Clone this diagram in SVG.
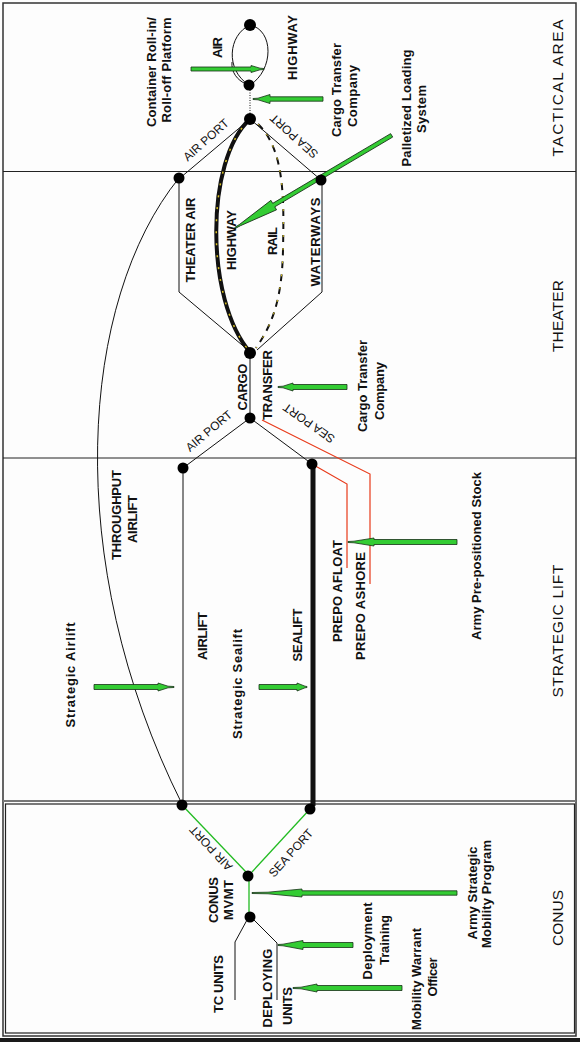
<svg xmlns="http://www.w3.org/2000/svg" width="580" height="1042" viewBox="0 0 580 1042">
<style>
.b{font-family:"Liberation Sans",Arial,sans-serif;font-weight:bold;font-size:13px;fill:#111;text-anchor:middle}
.p{font-family:"Liberation Sans",Arial,sans-serif;font-size:12px;fill:#111;text-anchor:middle;dominant-baseline:central}
.band{font-family:"Liberation Sans",Arial,sans-serif;font-size:15.5px;fill:#111;text-anchor:middle}
.ln{fill:none;stroke:#111;stroke-width:1}
.gl{fill:none;stroke:#22bb22;stroke-width:1.3}
.rd{fill:none;stroke:#e83a1a;stroke-width:1.2}
.dot{fill:#000}
.ga{fill:#33cc33;stroke:#163016;stroke-width:0.8;stroke-linejoin:round}
.frame{fill:none;stroke:#333;stroke-width:1.5}
</style>
<rect x="0" y="0" width="580" height="1042" fill="#fdfdfd"/>
<g id="frame">
<rect class="frame" x="3" y="3" width="573" height="1033"/>
<line x1="3" y1="171.5" x2="576" y2="171.5" stroke="#222" stroke-width="1"/>
<line x1="3" y1="458" x2="576" y2="458" stroke="#222" stroke-width="1"/>
<line x1="3" y1="801" x2="576" y2="801" stroke="#777" stroke-width="2"/>
<rect x="5.5" y="804" width="569" height="229" fill="none" stroke="#222" stroke-width="1.2"/>
<rect x="0" y="1038" width="580" height="4" fill="#1a1a1a"/>
<text class="band" transform="translate(563,88) rotate(-90)" textLength="137" lengthAdjust="spacing">TACTICAL AREA</text>
<text class="band" transform="translate(563,316) rotate(-90)" textLength="72" lengthAdjust="spacing">THEATER</text>
<text class="band" transform="translate(563,631) rotate(-90)" textLength="133" lengthAdjust="spacing">STRATEGIC LIFT</text>
<text class="band" transform="translate(563,918) rotate(-90)" textLength="56" lengthAdjust="spacing">CONUS</text>
</g>
<g id="connectors">
<path class="ln" d="M250,25 C228,35 225,70 249,85" stroke-width="3"/>
<path class="ln" d="M232,62 C231,72 237,80 246,84"/>
<path class="ln" d="M250,25 C274,30 274,70 250,85"/>
<path class="ln" d="M250,85 L250,119" stroke-dasharray="1 1.5"/>
<path class="ln" d="M250,119 L180,178"/>
<path class="ln" d="M250,119 L321,180"/>
<path d="M250,119 C205,160 205,300 250,352" fill="none" stroke="#111" stroke-width="4"/>
<path d="M250,119 C205,160 205,300 250,352" fill="none" stroke="#d8c020" stroke-width="1.5" stroke-dasharray="2 10"/>
<path d="M258,124 C285,150 284,200 283,250 C282,300 272,325 256,348" fill="none" stroke="#111" stroke-width="2" stroke-dasharray="7 6"/>
<path d="M258,124 C285,150 284,200 283,250 C282,300 272,325 256,348" fill="none" stroke="#d8c020" stroke-width="1" stroke-dasharray="2 11"/>
<path class="ln" d="M179,178 L179,292 L248,350"/>
<path class="ln" d="M322,180 L322,292 L257,350"/>
<path class="ln" d="M250,353 L250,418"/>
<path class="ln" d="M250,418 L183,468"/>
<path class="ln" d="M250,418 L312,464"/>
<path class="rd" d="M312,464 L347,484 L347,568"/>
<path class="rd" d="M262,420 L370,474 L370,584"/>
<path class="ln" d="M183,468 L183,804"/>
<path d="M313,464 L313,806" fill="none" stroke="#111" stroke-width="5"/>
<path class="ln" d="M179,178 C80,300 60,560 182,804"/>
<path class="gl" d="M182,805 L246,872"/>
<path class="gl" d="M310,809 L252,872"/>
<path class="gl" d="M249,880 L249,913"/>
<path class="ln" d="M247,920 L235,942 L235,1000"/>
<path class="ln" d="M254,920 L277,943 L277,1000"/>
<path class="ga" transform="translate(264,69) rotate(180)" d="M0,-0.5 L4,-0.8 L13,-3.5 L13,-2 L73,-2 L73,2 L13,2 L13,3.5 L4,0.8 L0,0.5 Z"/>
<path class="ga" transform="translate(253,99)" d="M0,-0.5 L5,-0.8 L17,-4.5 L17,-2.2 L70,-2.2 L70,2.2 L17,2.2 L17,4.5 L5,0.8 L0,0.5 Z"/>
<path class="ga" transform="translate(235,228) rotate(-30.6)" d="M0,-0.5 L6,-0.8 L45,-5.5 L45,-2 L182,-2 L182,2 L45,2 L45,5.5 L6,0.8 L0,0.5 Z"/>
<path class="ga" transform="translate(278,387)" d="M0,-0.5 L5,-0.8 L15,-4 L15,-2.5 L69,-2.5 L69,2.5 L15,2.5 L15,4 L5,0.8 L0,0.5 Z"/>
<path class="ga" transform="translate(348,542)" d="M0,-0.5 L6,-0.8 L26,-4 L26,-2.5 L109,-2.5 L109,2.5 L26,2.5 L26,4 L6,0.8 L0,0.5 Z"/>
<path class="ga" transform="translate(174,687) rotate(180)" d="M0,-0.5 L6,-0.8 L16,-4 L16,-2.5 L80,-2.5 L80,2.5 L16,2.5 L16,4 L6,0.8 L0,0.5 Z"/>
<path class="ga" transform="translate(307,687) rotate(180)" d="M0,-0.5 L2,-0.8 L10,-4 L10,-2.5 L48,-2.5 L48,2.5 L10,2.5 L10,4 L2,0.8 L0,0.5 Z"/>
<path class="ga" transform="translate(252,893)" d="M0,-0.5 L16,-0.8 L50,-4 L50,-2.2 L205,-2.2 L205,2.2 L50,2.2 L50,4 L16,0.8 L0,0.5 Z"/>
<path class="ga" transform="translate(278,945)" d="M0,-0.5 L5,-0.8 L25,-4.5 L25,-2.5 L75,-2.5 L75,2.5 L25,2.5 L25,4.5 L5,0.8 L0,0.5 Z"/>
<path class="ga" transform="translate(293,988)" d="M0,-0.5 L8,-0.8 L24,-4 L24,-2.5 L109,-2.5 L109,2.5 L24,2.5 L24,4 L8,0.8 L0,0.5 Z"/>
<text class="p" transform="translate(206,140) rotate(-42)">AIR PORT</text>
<text class="p" transform="translate(294,136) rotate(-138)">SEA PORT</text>
<text class="p" transform="translate(209,431) rotate(-40)">AIR PORT</text>
<text class="p" transform="translate(309,423) rotate(-145)">SEA PORT</text>
<text class="p" transform="translate(211,848) rotate(-133)">AIR PORT</text>
<text class="p" transform="translate(291,853) rotate(-48)">SEA PORT</text>
</g>
<g id="node-tactical-top">
<circle class="dot" cx="250" cy="25" r="6"/>
</g>
<g id="node-tactical-mid">
<circle class="dot" cx="249" cy="85" r="5.5"/>
</g>
<g id="node-tactical-hub">
<circle class="dot" cx="250" cy="119" r="6"/>
</g>
<g id="label-container-roll">
<text class="b" transform="translate(156,72) rotate(-90)" textLength="110" lengthAdjust="spacing">Container Roll-in/</text>
<text class="b" transform="translate(171,70) rotate(-90)" textLength="105" lengthAdjust="spacing">Roll-off Platform</text>
</g>
<g id="label-air-highway">
<text class="b" transform="translate(222,47.5) rotate(-90)" textLength="21" lengthAdjust="spacing">AIR</text>
<text class="b" transform="translate(297,47.5) rotate(-90)" textLength="65" lengthAdjust="spacing">HIGHWAY</text>
</g>
<g id="label-cargo-transfer-company-tactical">
<text class="b" transform="translate(341,90) rotate(-90)" textLength="94" lengthAdjust="spacing">Cargo Transfer</text>
<text class="b" transform="translate(357,96) rotate(-90)" textLength="62" lengthAdjust="spacing">Company</text>
</g>
<g id="label-palletized">
<text class="b" transform="translate(411,108) rotate(-90)" textLength="117" lengthAdjust="spacing">Palletized Loading</text>
<text class="b" transform="translate(426,109) rotate(-90)" textLength="48" lengthAdjust="spacing">System</text>
</g>
<g id="node-theater-air">
<circle class="dot" cx="179" cy="178" r="5.5"/>
<text class="b" transform="translate(195,240) rotate(-90)" textLength="85" lengthAdjust="spacing">THEATER AIR</text>
</g>
<g id="node-highway-rail">
<text class="b" transform="translate(236,240) rotate(-90)" textLength="60" lengthAdjust="spacing">HIGHWAY</text>
<text class="b" transform="translate(277,241) rotate(-90)" textLength="28" lengthAdjust="spacing">RAIL</text>
</g>
<g id="node-waterways">
<circle class="dot" cx="321" cy="180" r="5.5"/>
<text class="b" transform="translate(320,242) rotate(-90)" textLength="89" lengthAdjust="spacing">WATERWAYS</text>
</g>
<g id="node-cargo-transfer">
<circle class="dot" cx="250" cy="353" r="6"/>
<circle class="dot" cx="250" cy="418" r="5.5"/>
<text class="b" transform="translate(247,387) rotate(-90)" textLength="47" lengthAdjust="spacing">CARGO</text>
<text class="b" transform="translate(272,385) rotate(-90)" textLength="70" lengthAdjust="spacing">TRANSFER</text>
</g>
<g id="label-cargo-transfer-company-theater">
<text class="b" transform="translate(367,386) rotate(-90)" textLength="92" lengthAdjust="spacing">Cargo Transfer</text>
<text class="b" transform="translate(384,391) rotate(-90)" textLength="58" lengthAdjust="spacing">Company</text>
</g>
<g id="node-strategic-air">
<circle class="dot" cx="183" cy="468" r="5.5"/>
<text class="b" transform="translate(121,515) rotate(-90)" textLength="90" lengthAdjust="spacing">THROUGHPUT</text>
<text class="b" transform="translate(137,519) rotate(-90)" textLength="48" lengthAdjust="spacing">AIRLIFT</text>
<text class="b" transform="translate(207,636) rotate(-90)" textLength="48" lengthAdjust="spacing">AIRLIFT</text>
</g>
<g id="node-strategic-sea">
<circle class="dot" cx="312" cy="464" r="5.5"/>
<text class="b" transform="translate(302,635) rotate(-90)" textLength="53" lengthAdjust="spacing">SEALIFT</text>
<text class="b" transform="translate(342,591) rotate(-90)" textLength="102" lengthAdjust="spacing">PREPO AFLOAT</text>
<text class="b" transform="translate(365,606) rotate(-90)" textLength="108" lengthAdjust="spacing">PREPO  ASHORE</text>
</g>
<g id="label-strategic">
<text class="b" transform="translate(75,675) rotate(-90)" textLength="105" lengthAdjust="spacing">Strategic Airlift</text>
<text class="b" transform="translate(242,684) rotate(-90)" textLength="110" lengthAdjust="spacing">Strategic Sealift</text>
<text class="b" transform="translate(481,556) rotate(-90)" textLength="168" lengthAdjust="spacing">Army Pre-positioned Stock</text>
</g>
<g id="node-conus-airport">
<circle class="dot" cx="182" cy="805" r="5.5"/>
</g>
<g id="node-conus-seaport">
<circle class="dot" cx="310" cy="809" r="5.5"/>
</g>
<g id="node-conus-mvmt">
<circle class="dot" cx="248" cy="876" r="5.5"/>
<text class="b" transform="translate(218,900) rotate(-90)" textLength="46" lengthAdjust="spacing">CONUS</text>
<text class="b" transform="translate(233,900) rotate(-90)" textLength="40" lengthAdjust="spacing">MVMT</text>
</g>
<g id="node-deploying">
<circle class="dot" cx="250" cy="917" r="5.5"/>
<text class="b" transform="translate(223,984) rotate(-90)" textLength="58" lengthAdjust="spacing">TC UNITS</text>
<text class="b" transform="translate(272,988) rotate(-90)" textLength="79" lengthAdjust="spacing">DEPLOYING</text>
<text class="b" transform="translate(292,1006) rotate(-90)" textLength="38" lengthAdjust="spacing">UNITS</text>
</g>
<g id="label-conus-programs">
<text class="b" transform="translate(477,893) rotate(-90)" textLength="93" lengthAdjust="spacing">Army Strategic</text>
<text class="b" transform="translate(491,894) rotate(-90)" textLength="108" lengthAdjust="spacing">Mobility Program</text>
<text class="b" transform="translate(372,941) rotate(-90)" textLength="77" lengthAdjust="spacing">Deployment</text>
<text class="b" transform="translate(389,940) rotate(-90)" textLength="50" lengthAdjust="spacing">Training</text>
<text class="b" transform="translate(421,979) rotate(-90)" textLength="102" lengthAdjust="spacing">Mobility Warrant</text>
<text class="b" transform="translate(437,977) rotate(-90)" textLength="39" lengthAdjust="spacing">Officer</text>
</g>
</svg>
